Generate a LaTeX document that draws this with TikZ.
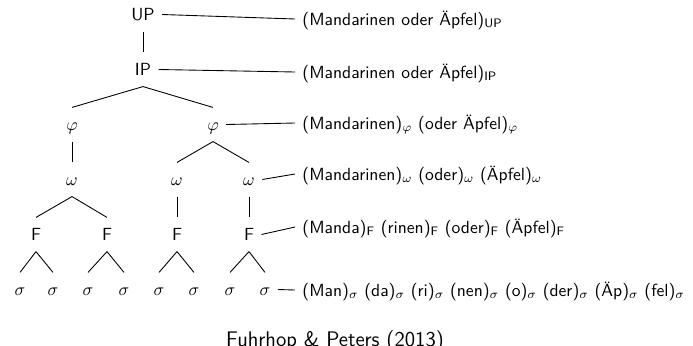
\documentclass[tikz,border=0pt]{standalone}
\begin{document}
\begin{tikzpicture}[x=0.02cm, y=-0.02cm, font=\sffamily, line width=0.5pt,
  tn/.style={inner xsep=4pt, inner ysep=6pt, text height=6.94pt, text depth=0pt},
  lab/.style={anchor=west, inner xsep=4pt, inner ysep=0pt, text height=6.94pt, text depth=0pt},
  capt/.style={anchor=base, font=\sffamily\large, inner sep=0pt}]
\useasboundingbox (0,0) rectangle (693,345);

% prosodic tree
\node[tn] (UP) at (143,14.5) {UP};
\node[tn] (IP) at (143,69.5) {IP};
\node[tn] (phiA) at (72,124.5) {$\varphi$};
\node[tn] (phiB) at (213,124.5) {$\varphi$};
\node[tn] (omA) at (72,179.5) {$\omega$};
\node[tn] (omB) at (177,179.5) {$\omega$};
\node[tn] (omC) at (249,179.5) {$\omega$};
\node[tn] (FA) at (36,234.5) {F};
\node[tn] (FB) at (107,234.5) {F};
\node[tn] (FC) at (177,234.5) {F};
\node[tn] (FD) at (249,234.5) {F};
\node[tn] (s1) at (20,289.5) {$\sigma$};
\node[tn] (s2) at (53,289.5) {$\sigma$};
\node[tn] (s3) at (88,289.5) {$\sigma$};
\node[tn] (s4) at (124,289.5) {$\sigma$};
\node[tn] (s5) at (159,289.5) {$\sigma$};
\node[tn] (s6) at (194,289.5) {$\sigma$};
\node[tn] (s7) at (230,289.5) {$\sigma$};
\node[tn] (s8) at (265,289.5) {$\sigma$};

\draw (UP.south) -- (IP.north);
\draw (IP.south) -- (phiA.north);
\draw (IP.south) -- (phiB.north);
\draw (phiA.south) -- (omA.north);
\draw (phiB.south) -- (omB.north);
\draw (phiB.south) -- (omC.north);
\draw (omA.south) -- (FA.north);
\draw (omA.south) -- (FB.north);
\draw (omB.south) -- (FC.north);
\draw (omC.south) -- (FD.north);
\draw (FA.south) -- (s1.north);
\draw (FA.south) -- (s2.north);
\draw (FB.south) -- (s3.north);
\draw (FB.south) -- (s4.north);
\draw (FC.south) -- (s5.north);
\draw (FC.south) -- (s6.north);
\draw (FD.south) -- (s7.north);
\draw (FD.south) -- (s8.north);

% bracketings per level
\node[lab] (lUP) at (295,19) {(Mandarinen oder Äpfel)$_\mathsf{UP}$};
\node[lab] (lIP) at (295,72) {(Mandarinen oder Äpfel)$_\mathsf{IP}$};
\node[lab] (lphi) at (295,123) {(Mandarinen)$_\varphi$ (oder Äpfel)$_\varphi$};
\node[lab] (lom) at (295,174) {(Mandarinen)$_\omega$ (oder)$_\omega$ (Äpfel)$_\omega$};
\node[lab] (lF) at (295,227) {(Manda)$_\mathsf{F}$ (rinen)$_\mathsf{F}$ (oder)$_\mathsf{F}$ (Äpfel)$_\mathsf{F}$};
\node[lab] (ls) at (295,290) {(Man)$_\sigma$ (da)$_\sigma$ (ri)$_\sigma$ (nen)$_\sigma$ (o)$_\sigma$ (der)$_\sigma$ (Äp)$_\sigma$ (fel)$_\sigma$};

\draw (UP.east) -- (lUP.west);
\draw (IP.east) -- (lIP.west);
\draw (phiB.east) -- (lphi.west);
\draw (omC.east) -- (lom.west);
\draw (FD.east) -- (lF.west);
\draw (s8.east) -- (ls.west);

\node[capt] (cap) at (335,346) {Fuhrhop \& Peters (2013)};
\end{tikzpicture}
\end{document}
